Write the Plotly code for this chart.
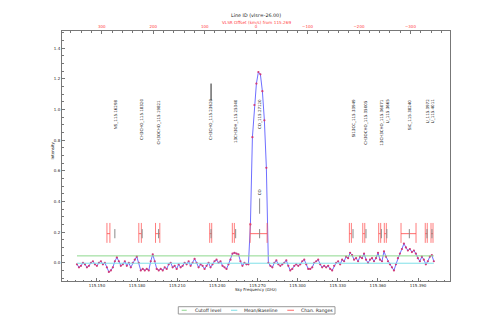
import plotly.graph_objects as go

C_KMS = 299792.458
REF_FREQ = 115.269
TITLE = "Line ID (vlsr=-26.00)"
SUBTITLE = "VLSR Offset (km/s) from 115.269"

# spectrum (channels)
chan_start = 115.1351
chan_width = 0.00149
intensity = [
    -0.01, -0.03, -0.02, 0.00, -0.01, -0.03, -0.02, 0.00, 0.01, -0.01,
    -0.02, 0.00, 0.01, -0.01, 0.00, -0.03, -0.06, -0.05, -0.03, 0.01,
    0.035, 0.01, -0.02, -0.01, 0.01, -0.02, 0.00, -0.03, 0.00, 0.02,
    0.04, 0.00, -0.05, -0.04, -0.05, -0.04, -0.05, 0.01, 0.055, 0.01,
    -0.04, -0.05, -0.04, -0.05, -0.03, -0.04, -0.01, 0.00, -0.03, -0.02,
    -0.04, -0.01, -0.03, -0.02, 0.00, -0.01, 0.01, -0.02, 0.00, 0.025,
    0.00, -0.03, -0.01, -0.02, -0.04, -0.02, 0.00, -0.03, -0.01, 0.01,
    0.02, 0.00, 0.01, -0.02, -0.03, -0.04, -0.01, 0.02, 0.06, 0.065,
    0.06, 0.055, 0.01, -0.02, 0.00, -0.01, -0.01, 0.25, 0.82, 1.03,
    1.17, 1.245,
    1.23, 1.12, 0.93, 0.62, 0.00,
    -0.02, -0.03, 0.00, 0.015, -0.01,
    -0.02, -0.01, 0.00, 0.015, -0.02,
    -0.05, -0.04, -0.02, -0.01, -0.02,
    -0.01, 0.01, 0.02, -0.01, -0.04,
    -0.04, -0.03, 0.00, 0.01, 0.02,
    -0.01, -0.03, -0.02, -0.03, -0.02,
    -0.04, -0.05, -0.02, 0.00, 0.01,
    -0.01, 0.02, 0.01, 0.04, 0.03,
    0.065, 0.05, 0.02, 0.03, 0.01,
    0.04, 0.03, 0.06, 0.02, 0.00,
    0.02, 0.03, 0.01, 0.03, 0.065,
    0.02, 0.01, 0.075, 0.04, 0.01,
    -0.01, -0.03, -0.05, -0.01, 0.03,
    0.06, 0.09, 0.125, 0.10, 0.08,
    0.09, 0.07, 0.08, 0.06, 0.03,
    0.01, 0.04, 0.02, -0.01, 0.01,
    0.04, 0.05, 0.01,
]
freq = [chan_start + i * chan_width for i in range(len(intensity))]

cutoff_level = 0.045
baseline_mean = -0.003

# identified lines
line_names = [
    "NS_115.16298", "CH3CHO_115.18320", "CH3OCHO_115.19821", "CH3CHO_115.23620",
    "13CH3OH_115.25340", "CO_115.27120", "Si13CC_115.33949", "CH3OCHO_115.35005",
    "13CH3CHO_115.36071", "U_115.3665", "SiC_115.38240", "U_115.3972", "U_115.4011",
]
line_freqs = [115.1634, 115.1838, 115.1961, 115.2353, 115.2537, 115.2716, 115.3414,
              115.3511, 115.3626, 115.3667, 115.3835, 115.3967, 115.4004]
range_lo = [115.1575, 115.1813, 115.1938, 115.2343, 115.2512, 115.2645, 115.3387,
            115.3487, 115.3606, 115.3648, 115.3773, 115.3954, 115.3997]
range_hi = [115.1597, 115.1832, 115.1970, 115.2358, 115.2527, 115.2772, 115.3402,
            115.3502, 115.3621, 115.3663, 115.3885, 115.3969, 115.4012]

legend_names = ["Cutoff level", "Mean/Baseline", "Chan. Ranges"]

x_range = [115.1239, 115.4139]
y_range = [-0.119, 1.513]
range_y = 0.19
range_bar = [0.13, 0.26]
tick_y = [0.16, 0.22]
label_top = 1.08

def vel(f):
    return C_KMS * (REF_FREQ - f) / REF_FREQ

FONT = "DejaVu Sans"
RED = "#ff6b6b"
GREEN = "#8ed88e"
CYAN = "#7fe0e8"

fig = go.Figure()

fig.add_trace(go.Scatter(
    x=freq, y=intensity, mode="lines+markers",
    line=dict(color="#6f6fff", width=1),
    marker=dict(size=2.2, color="#d23a78"),
    showlegend=False, hoverinfo="skip"))

fig.add_trace(go.Scatter(
    x=[freq[0], freq[-1]], y=[cutoff_level, cutoff_level], mode="lines",
    line=dict(color=GREEN, width=1), name=legend_names[0], showlegend=False))
fig.add_trace(go.Scatter(
    x=[freq[0], freq[-1]], y=[baseline_mean, baseline_mean], mode="lines",
    line=dict(color=CYAN, width=1), name=legend_names[1], showlegend=False))

hx, hy, bx, by = [], [], [], []
for lo, hi in zip(range_lo, range_hi):
    hx += [lo, hi, None]
    hy += [range_y, range_y, None]
    for f in (lo, hi):
        bx += [f, f, None]
        by += [range_bar[0], range_bar[1], None]
fig.add_trace(go.Scatter(x=hx, y=hy, mode="lines", line=dict(color=RED, width=1),
                         name=legend_names[2], showlegend=False))
fig.add_trace(go.Scatter(x=bx, y=by, mode="lines",
                         line=dict(color="rgba(255,80,80,0.75)", width=1),
                         showlegend=False, hoverinfo="skip"))

tx, ty = [], []
for f in line_freqs:
    tx += [f, f, None]
    ty += [tick_y[0], tick_y[1], None]
fig.add_trace(go.Scatter(x=tx, y=ty, mode="lines", line=dict(color="#8a8a8a", width=1),
                         showlegend=False, hoverinfo="skip"))

# CO marker near the peak and stray marker above CH3CHO label
co_f = line_freqs[5]
fig.add_trace(go.Scatter(x=[co_f, co_f], y=[0.32, 0.42], mode="lines",
                         line=dict(color="#8a8a8a", width=1), showlegend=False))
fig.add_trace(go.Scatter(x=[line_freqs[3], line_freqs[3]], y=[1.06, 1.17], mode="lines",
                         line=dict(color="#222222", width=1), showlegend=False))

# dummy trace for the top velocity axis
fig.add_trace(go.Scatter(x=[vel(x_range[0]), vel(x_range[1])], y=[None, None],
                         xaxis="x2", mode="lines", showlegend=False, hoverinfo="skip"))

annotations = []
for name, f in zip(line_names, line_freqs):
    annotations.append(dict(x=f, y=label_top, xref="x", yref="y", text=name,
                            textangle=-90, showarrow=False, xanchor="center",
                            yanchor="top", font=dict(size=4, color="#222", family=FONT)))
annotations.append(dict(x=co_f, y=0.425, xref="x", yref="y", text="CO", textangle=-90,
                        showarrow=False, xanchor="center", yanchor="bottom",
                        font=dict(size=4, color="#222", family=FONT)))
annotations.append(dict(x=0.5, y=1.062, xref="paper", yref="paper", text=TITLE,
                        showarrow=False, xanchor="center", yanchor="middle",
                        font=dict(size=4.8, color="#222", family=FONT)))
annotations.append(dict(x=0.5, y=1.032, xref="paper", yref="paper", text=SUBTITLE,
                        showarrow=False, xanchor="center", yanchor="middle",
                        font=dict(size=4.2, color="#ff4040", family=FONT)))
annotations.append(dict(x=0.5, y=-0.033, xref="paper", yref="paper",
                        text="Sky Frequency (GHz)", showarrow=False,
                        xanchor="center", yanchor="middle",
                        font=dict(size=4, color="#222", family=FONT)))
annotations.append(dict(x=-0.027, y=0.52, xref="paper", yref="paper", text="Intensity",
                        textangle=-90, showarrow=False, xanchor="center",
                        yanchor="middle", font=dict(size=4, color="#222", family=FONT)))

# legend drawn below the plot
shapes = [dict(type="rect", xref="paper", yref="paper", x0=0.2997, x1=0.7036,
               y0=-0.132, y1=-0.1028, line=dict(color="#999", width=1),
               fillcolor="white")]
leg_cols = [GREEN, CYAN, RED]
leg_sample_x = [(0.3085, 0.3214), (0.4356, 0.4518), (0.5807, 0.5979)]
leg_text_x = [0.3369, 0.4647, 0.6116]
leg_y = -0.117
for name, col, (sx0, sx1), tx0 in zip(legend_names, leg_cols, leg_sample_x, leg_text_x):
    shapes.append(dict(type="line", xref="paper", yref="paper", x0=sx0, x1=sx1,
                       y0=leg_y, y1=leg_y, line=dict(color=col, width=1)))
    annotations.append(dict(x=tx0, y=leg_y, xref="paper", yref="paper", text=name,
                            showarrow=False, xanchor="left", yanchor="middle",
                            font=dict(size=4.6, color="#222", family=FONT)))

axis_common = dict(showgrid=False, zeroline=False, showline=True, linecolor="#777",
                   linewidth=1, ticks="inside", ticklen=3, tickcolor="#777")

fig.update_layout(
    width=498, height=332,
    margin=dict(l=62, r=48, t=31, b=51),
    paper_bgcolor="white", plot_bgcolor="white",
    font=dict(family=FONT, size=4, color="#222"),
    xaxis=dict(range=x_range, tick0=115.15, dtick=0.03, tickformat=".3f",
               mirror=False, tickfont=dict(size=4, color="#222"),
               minor=dict(ticks="inside", ticklen=1.5, dtick=0.006, tickcolor="#777"),
               **axis_common),
    xaxis2=dict(range=[vel(x_range[0]), vel(x_range[1])], overlaying="x", side="top",
                tickmode="array", tickvals=[300, 200, 100, 0, -100, -200, -300],
                tickfont=dict(size=4, color="#ff4040"),
                minor=dict(ticks="inside", ticklen=1.5, dtick=20, tickcolor="#777"),
                **axis_common),
    yaxis=dict(range=y_range, tick0=0, dtick=0.2, tickformat=".1f", mirror=True,
               tickfont=dict(size=4, color="#222"),
               minor=dict(ticks="inside", ticklen=1.5, dtick=0.05, tickcolor="#777"),
               **axis_common),
    showlegend=False,
    annotations=annotations,
    shapes=shapes,
)

fig.write_html("out.html")
